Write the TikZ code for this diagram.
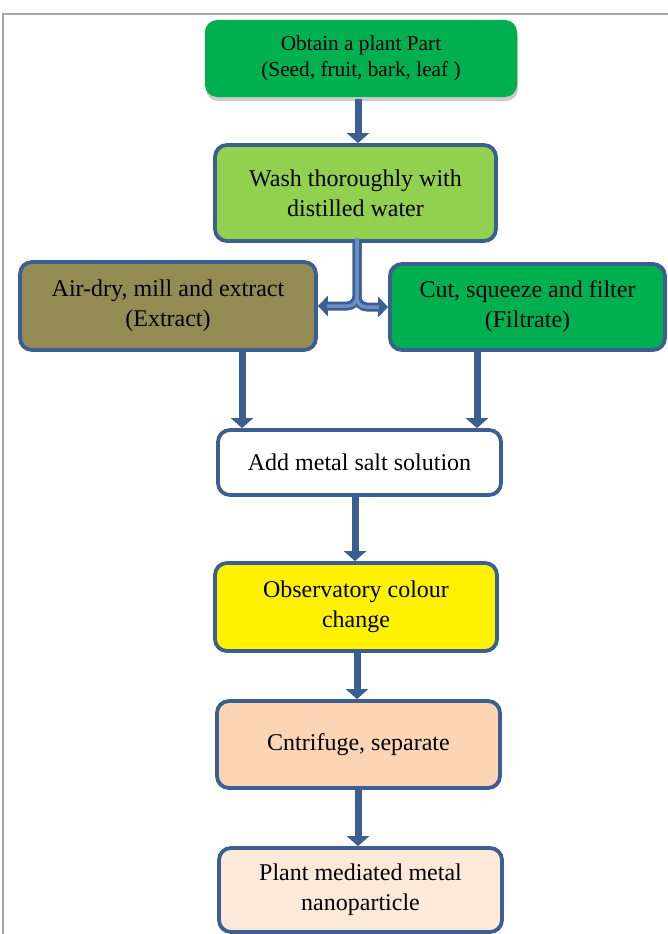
\documentclass[tikz,border=0pt]{standalone}
\usepackage{fontspec}
\setmainfont{Liberation Serif}
\usetikzlibrary{arrows.meta,shadows}
\definecolor{bblue}{HTML}{3B5F91}
\definecolor{lblue}{HTML}{6A8FC4}
\definecolor{gdark}{HTML}{00B050}
\definecolor{glight}{HTML}{92D050}
\definecolor{olive}{HTML}{948A54}
\definecolor{peach}{HTML}{FBD5B5}
\definecolor{pale}{HTML}{FDE9D9}
\definecolor{frame}{HTML}{A6A6A6}
\begin{document}
\begin{tikzpicture}[x=1pt,y=-1pt,
  box/.style={rectangle, rounded corners=12pt, draw=bblue, line width=3.8pt,
    align=center, inner sep=0pt, font=\fontsize{24}{30}\selectfont},
  arr/.style={draw=bblue, line width=7pt, -{Triangle[length=10pt,width=22pt]}}]
\useasboundingbox (0,0) rectangle (667,934);
\fill[white] (0,0) rectangle (667,934);
\draw[frame, line width=2pt] (3,940) -- (3,14) -- (670,14);

\node[box, draw=none, fill=gdark, minimum width=312pt, minimum height=77pt,
  font=\fontsize{21.3}{25.5}\selectfont,
  drop shadow={shadow xshift=1pt, shadow yshift=-4pt, fill=black!40, opacity=0.5}]
  (obtain) at (361,58.5) {Obtain a plant Part\\(Seed, fruit, bark, leaf )};
\node[box, fill=glight, minimum width=281pt, minimum height=96pt]
  (wash) at (355.5,193) {Wash thoroughly with\\distilled water};
\node[box, fill=olive, minimum width=296pt, minimum height=88pt]
  (airdry) at (168,306) {Air-dry, mill and extract\\(Extract)};
\node[box, fill=gdark, minimum width=275pt, minimum height=86pt]
  (cut) at (527.5,307) {Cut, squeeze and filter\\(Filtrate)};
\node[box, fill=white, minimum width=283pt, minimum height=65pt]
  (add) at (359.5,462.5) {Add metal salt solution};
\node[box, fill=yellow, minimum width=282pt, minimum height=88pt]
  (obs) at (356,607) {Observatory colour\\change};
\node[box, fill=peach, minimum width=283pt, minimum height=87pt]
  (cen) at (358.5,744.5) {Cntrifuge, separate};
\node[box, fill=pale, minimum width=283pt, minimum height=84pt]
  (plant) at (360.5,890) {Plant mediated metal\\nanoparticle};

\coordinate (split) at (357,241);
\draw[arr] (obtain.south -| 358,0) -- (wash.north -| 358,0);
% split arrow
\draw[draw=bblue, line width=9pt, rounded corners=10pt, -{Triangle[length=10pt,width=20pt]}]
  ([yshift=1pt]split) |- (airdry.east);
\draw[draw=bblue, line width=9pt, rounded corners=10pt, -{Triangle[length=10pt,width=20pt]}]
  ([yshift=1pt]split) |- (cut.west);
\draw[draw=lblue, line width=3.5pt, rounded corners=9pt, shorten >=9pt]
  ([yshift=3pt]split) |- (airdry.east);
\draw[draw=lblue, line width=3.5pt, rounded corners=9pt, shorten >=9pt]
  ([yshift=3pt]split) |- (cut.west);

\draw[arr] (airdry.south -| 242,0) -- (add.north -| 242,0);
\draw[arr] (cut.south -| 477,0) -- (add.north -| 477,0);
\draw[arr] (add.south -| 355,0) -- (obs.north -| 355,0);
\draw[arr] (obs.south -| 357,0) -- (cen.north -| 357,0);
\draw[arr] (cen.south -| 358,0) -- (plant.north -| 358,0);
\end{tikzpicture}
\end{document}
